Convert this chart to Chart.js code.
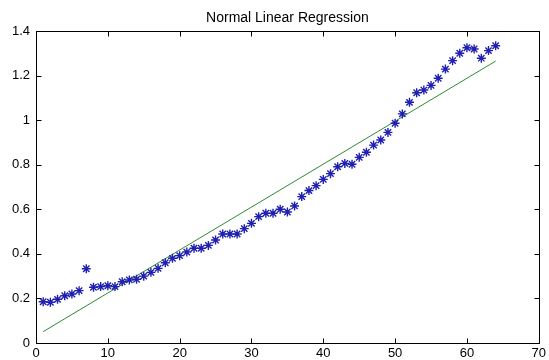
<!DOCTYPE html>
<html>
<head>
<meta charset="utf-8">
<script src="https://cdn.jsdelivr.net/npm/chart.js@4.4.1/dist/chart.umd.min.js"></script>
<style>
  body { margin: 0; background: #fff; }
  canvas { display: block; }
</style>
</head>
<body>
<canvas id="regression-chart" width="549" height="360"></canvas>
<script>
const sampleX = [1, 2, 3, 4, 5, 6, 7, 8, 9, 10, 11, 12, 13, 14, 15, 16,
  17, 18, 19, 20, 21, 22, 23, 24, 25, 26, 27, 28, 29, 30, 31, 32,
  33, 34, 35, 36, 37, 38, 39, 40, 41, 42, 43, 44, 45, 46, 47, 48,
  49, 50, 51, 52, 53, 54, 55, 56, 57, 58, 59, 60, 61, 62, 63, 64];
const sampleY = [0.185, 0.183, 0.196, 0.212, 0.22, 0.235, 0.333, 0.25, 0.253, 0.257, 0.253, 0.275, 0.283, 0.286, 0.30, 0.317,
  0.335, 0.36, 0.38, 0.392, 0.408, 0.425, 0.425, 0.438, 0.462, 0.489, 0.489, 0.489, 0.513, 0.537, 0.567, 0.582,
  0.582, 0.60, 0.588, 0.615, 0.657, 0.684, 0.706, 0.734, 0.76, 0.791, 0.806, 0.802, 0.833, 0.856, 0.888, 0.911,
  0.945, 0.986, 1.028, 1.08, 1.123, 1.135, 1.156, 1.188, 1.229, 1.267, 1.30, 1.325, 1.319, 1.278, 1.312, 1.334];

// fitted line, just the two ends
const fitX = [1, 64];
const fitY = [0.051, 1.265];

const xTicks = [0, 10, 20, 30, 40, 50, 60, 70];
const yTicks = [0, 0.2, 0.4, 0.6, 0.8, 1, 1.2, 1.4];
const chartTitle = 'Normal Linear Regression';

const FONT = 'Arial, "Liberation Sans", sans-serif';

// matlab style box: frame, ticks pointing inside, title centered on the axes
const matlabBox = {
  id: 'matlabBox',
  afterDraw(chart) {
    const { ctx, chartArea: a, scales } = chart;
    ctx.save();
    ctx.strokeStyle = '#000';
    ctx.lineWidth = 1;
    const L = Math.round(a.left) + 0.5, R = Math.round(a.right) + 0.5;
    const T = Math.round(a.top) + 0.5, B = Math.round(a.bottom) + 0.5;
    ctx.strokeRect(L, T, R - L, B - T);
    ctx.beginPath();
    xTicks.forEach(v => {
      const px = Math.round(scales.x.getPixelForValue(v)) + 0.5;
      ctx.moveTo(px, B); ctx.lineTo(px, B - 5);
      ctx.moveTo(px, T); ctx.lineTo(px, T + 5);
    });
    yTicks.forEach(v => {
      const py = Math.round(scales.y.getPixelForValue(v)) + 0.5;
      ctx.moveTo(L, py); ctx.lineTo(L + 5, py);
      ctx.moveTo(R, py); ctx.lineTo(R - 5, py);
    });
    ctx.stroke();

    ctx.fillStyle = '#000';
    ctx.font = '14px ' + FONT;
    ctx.textAlign = 'center';
    ctx.textBaseline = 'middle';
    ctx.fillText(chartTitle, (a.left + a.right) / 2, 18);
    ctx.restore();
  }
};

const points = sampleX.map((x, i) => ({ x: x, y: sampleY[i] }));
const fit = fitX.map((x, i) => ({ x: x, y: fitY[i] }));

new Chart(document.getElementById('regression-chart'), {
  type: 'scatter',
  data: {
    datasets: [{
      data: fit,
      showLine: true,
      borderColor: '#2e8b2e',
      borderWidth: 1,
      pointRadius: 0,
      order: 2
    }, {
      data: points,
      pointStyle: 'star',
      pointRadius: 4.5,
      borderWidth: 1.4,
      borderColor: '#2020b0',
      backgroundColor: '#2020b0',
      order: 1
    }]
  },
  options: {
    responsive: false,
    animation: false,
    layout: { padding: { top: 31, right: 8, left: 0, bottom: 0 } },
    plugins: { legend: { display: false }, title: { display: false }, tooltip: { enabled: false } },
    scales: {
      x: {
        type: 'linear', min: 0, max: 70,
        afterFit: s => { s.height = 17; },
        afterBuildTicks: s => { s.ticks = xTicks.map(v => ({ value: v })); },
        grid: { display: false, drawTicks: false },
        border: { display: false },
        ticks: { color: '#000', padding: 3, maxRotation: 0, font: { family: FONT, size: 13 } }
      },
      y: {
        type: 'linear', min: 0, max: 1.4,
        afterFit: s => { s.width = 36; },
        afterBuildTicks: s => { s.ticks = yTicks.map(v => ({ value: v })); },
        grid: { display: false, drawTicks: false },
        border: { display: false },
        ticks: { color: '#000', padding: 6, font: { family: FONT, size: 13 },
          callback: v => String(Math.round(v * 10) / 10) }
      }
    }
  },
  plugins: [matlabBox]
});
</script>
</body>
</html>
